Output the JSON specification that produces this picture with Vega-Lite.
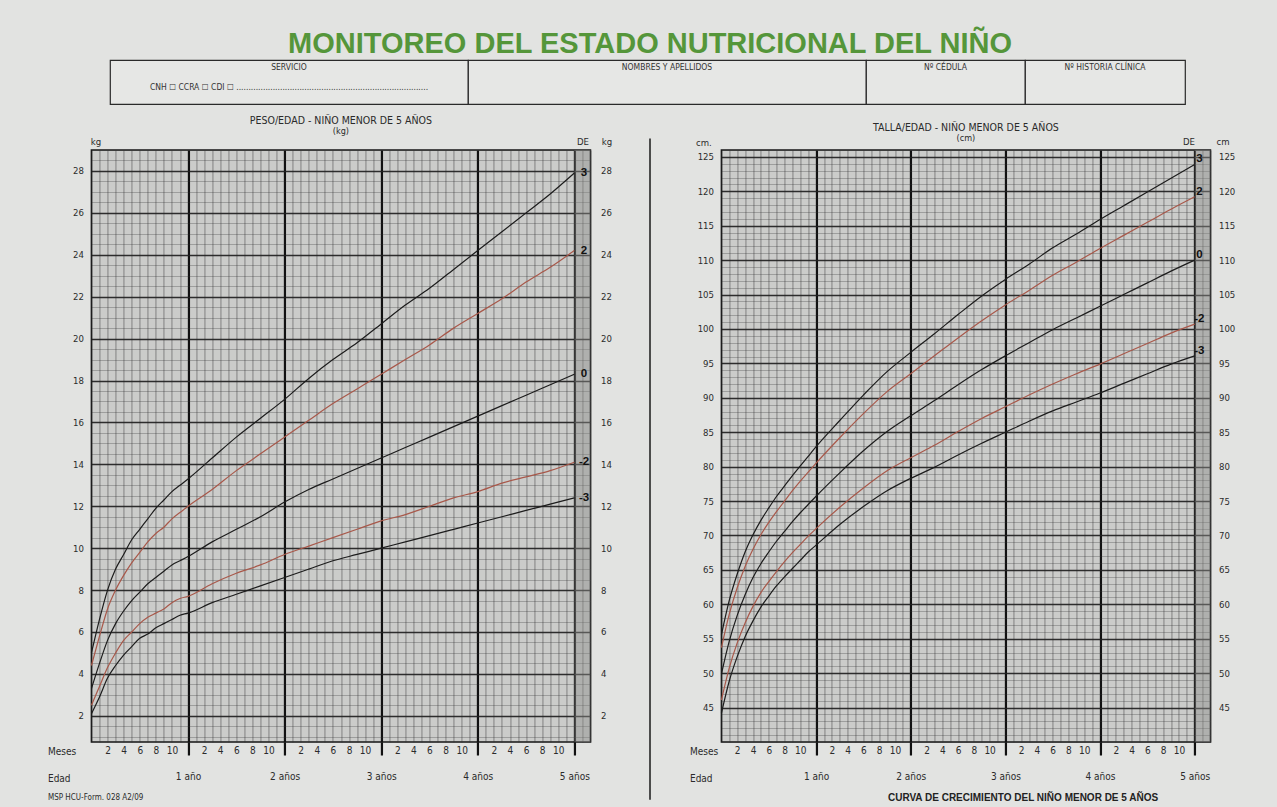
{
  "$schema": "https://vega.github.io/schema/vega-lite/v6.json",
  "background": "#e2e3e1",
  "padding": {"left": 46, "top": 30, "right": 44, "bottom": 8},
  "title": {"text": "MONITOREO DEL ESTADO NUTRICIONAL DEL NIÑO", "font": "Liberation Sans", "fontSize": 29, "fontWeight": "bold", "color": "#55963a", "anchor": "middle", "offset": 0, "dx": 9},
  "datasets": {
    "weight": [
      {"m": 0, "-3": 2.1, "-2": 2.5, "0": 3.3, "2": 4.4, "3": 5.0},
      {"m": 1, "-3": 2.9, "-2": 3.4, "0": 4.5, "2": 5.8, "3": 6.6},
      {"m": 2, "-3": 3.8, "-2": 4.3, "0": 5.6, "2": 7.1, "3": 8.0},
      {"m": 3, "-3": 4.4, "-2": 5.0, "0": 6.4, "2": 8.0, "3": 9.0},
      {"m": 4, "-3": 4.9, "-2": 5.6, "0": 7.0, "2": 8.7, "3": 9.7},
      {"m": 5, "-3": 5.3, "-2": 6.0, "0": 7.5, "2": 9.3, "3": 10.4},
      {"m": 6, "-3": 5.7, "-2": 6.4, "0": 7.9, "2": 9.8, "3": 10.9},
      {"m": 7, "-3": 5.9, "-2": 6.7, "0": 8.3, "2": 10.3, "3": 11.4},
      {"m": 8, "-3": 6.2, "-2": 6.9, "0": 8.6, "2": 10.7, "3": 11.9},
      {"m": 9, "-3": 6.4, "-2": 7.1, "0": 8.9, "2": 11.0, "3": 12.3},
      {"m": 10, "-3": 6.6, "-2": 7.4, "0": 9.2, "2": 11.4, "3": 12.7},
      {"m": 11, "-3": 6.8, "-2": 7.6, "0": 9.4, "2": 11.7, "3": 13.0},
      {"m": 12, "-3": 6.9, "-2": 7.7, "0": 9.6, "2": 12.0, "3": 13.3},
      {"m": 15, "-3": 7.4, "-2": 8.3, "0": 10.3, "2": 12.8, "3": 14.3},
      {"m": 18, "-3": 7.8, "-2": 8.8, "0": 10.9, "2": 13.7, "3": 15.3},
      {"m": 21, "-3": 8.2, "-2": 9.2, "0": 11.5, "2": 14.5, "3": 16.2},
      {"m": 24, "-3": 8.6, "-2": 9.7, "0": 12.2, "2": 15.3, "3": 17.1},
      {"m": 27, "-3": 9.0, "-2": 10.1, "0": 12.8, "2": 16.1, "3": 18.1},
      {"m": 30, "-3": 9.4, "-2": 10.5, "0": 13.3, "2": 16.9, "3": 19.0},
      {"m": 33, "-3": 9.7, "-2": 10.9, "0": 13.8, "2": 17.6, "3": 19.8},
      {"m": 36, "-3": 10.0, "-2": 11.3, "0": 14.3, "2": 18.3, "3": 20.7},
      {"m": 39, "-3": 10.3, "-2": 11.6, "0": 14.8, "2": 19.0, "3": 21.6},
      {"m": 42, "-3": 10.6, "-2": 12.0, "0": 15.3, "2": 19.7, "3": 22.4},
      {"m": 45, "-3": 10.9, "-2": 12.4, "0": 15.8, "2": 20.5, "3": 23.3},
      {"m": 48, "-3": 11.2, "-2": 12.7, "0": 16.3, "2": 21.2, "3": 24.2},
      {"m": 51, "-3": 11.5, "-2": 13.1, "0": 16.8, "2": 21.9, "3": 25.1},
      {"m": 54, "-3": 11.8, "-2": 13.4, "0": 17.3, "2": 22.7, "3": 26.0},
      {"m": 57, "-3": 12.1, "-2": 13.7, "0": 17.8, "2": 23.4, "3": 26.9},
      {"m": 60, "-3": 12.4, "-2": 14.1, "0": 18.3, "2": 24.2, "3": 27.9}
    ],
    "height": [
      {"m": 0, "-3": 44.2, "-2": 46.1, "0": 49.9, "2": 53.7, "3": 55.6},
      {"m": 1, "-3": 48.9, "-2": 50.8, "0": 54.7, "2": 58.6, "3": 60.6},
      {"m": 2, "-3": 52.4, "-2": 54.4, "0": 58.4, "2": 62.4, "3": 64.4},
      {"m": 3, "-3": 55.3, "-2": 57.3, "0": 61.4, "2": 65.5, "3": 67.6},
      {"m": 4, "-3": 57.6, "-2": 59.7, "0": 63.9, "2": 68.0, "3": 70.1},
      {"m": 5, "-3": 59.6, "-2": 61.7, "0": 65.9, "2": 70.1, "3": 72.2},
      {"m": 6, "-3": 61.2, "-2": 63.3, "0": 67.6, "2": 71.9, "3": 74.0},
      {"m": 7, "-3": 62.7, "-2": 64.8, "0": 69.2, "2": 73.5, "3": 75.7},
      {"m": 8, "-3": 64.0, "-2": 66.2, "0": 70.6, "2": 75.0, "3": 77.2},
      {"m": 9, "-3": 65.2, "-2": 67.5, "0": 72.0, "2": 76.5, "3": 78.7},
      {"m": 10, "-3": 66.4, "-2": 68.7, "0": 73.3, "2": 77.9, "3": 80.1},
      {"m": 11, "-3": 67.6, "-2": 69.9, "0": 74.5, "2": 79.2, "3": 81.5},
      {"m": 12, "-3": 68.6, "-2": 71.0, "0": 75.7, "2": 80.5, "3": 82.9},
      {"m": 15, "-3": 71.6, "-2": 74.1, "0": 79.1, "2": 84.2, "3": 86.7},
      {"m": 18, "-3": 74.2, "-2": 76.9, "0": 82.3, "2": 87.7, "3": 90.4},
      {"m": 21, "-3": 76.5, "-2": 79.4, "0": 85.1, "2": 90.9, "3": 93.8},
      {"m": 24, "-3": 78.3, "-2": 81.3, "0": 87.4, "2": 93.5, "3": 96.6},
      {"m": 27, "-3": 79.9, "-2": 83.1, "0": 89.6, "2": 96.1, "3": 99.3},
      {"m": 30, "-3": 81.7, "-2": 85.1, "0": 91.9, "2": 98.7, "3": 102.1},
      {"m": 33, "-3": 83.4, "-2": 87.0, "0": 94.1, "2": 101.2, "3": 104.8},
      {"m": 36, "-3": 85.0, "-2": 88.7, "0": 96.1, "2": 103.5, "3": 107.2},
      {"m": 39, "-3": 86.6, "-2": 90.4, "0": 98.0, "2": 105.6, "3": 109.4},
      {"m": 42, "-3": 88.1, "-2": 92.0, "0": 99.9, "2": 107.8, "3": 111.8},
      {"m": 45, "-3": 89.4, "-2": 93.5, "0": 101.6, "2": 109.7, "3": 113.8},
      {"m": 48, "-3": 90.7, "-2": 94.9, "0": 103.3, "2": 111.7, "3": 115.9},
      {"m": 51, "-3": 92.1, "-2": 96.4, "0": 105.0, "2": 113.6, "3": 117.9},
      {"m": 54, "-3": 93.5, "-2": 97.9, "0": 106.7, "2": 115.5, "3": 119.9},
      {"m": 57, "-3": 94.9, "-2": 99.4, "0": 108.4, "2": 117.4, "3": 121.9},
      {"m": 60, "-3": 96.1, "-2": 100.7, "0": 110.0, "2": 119.2, "3": 123.9}
    ]
  },
  "vconcat": [
    {
      "hconcat": [
        {"width": 358, "height": 44, "view": {"fill": "#e6e7e5", "stroke": "#2a2a2a", "strokeWidth": 1.2},
         "title": {"text": "SERVICIO", "offset": -11, "fontSize": 8.5, "color": "#333"},
         "data": {"values": [{"t": "CNH ☐    CCRA ☐    CDI ☐   ..............................................................................."}]},
         "mark": {"type": "text", "fontSize": 8.5, "color": "#333", "dy": 5},
         "encoding": {"text": {"field": "t"}}},
        {"width": 398, "height": 44, "view": {"fill": "#e6e7e5", "stroke": "#2a2a2a", "strokeWidth": 1.2},
         "title": {"text": "NOMBRES Y APELLIDOS", "offset": -11, "fontSize": 8.5, "color": "#333"},
         "data": {"values": [{"t": ""}]},
         "mark": {"type": "text"},
         "encoding": {"text": {"field": "t"}}},
        {"width": 159, "height": 44, "view": {"fill": "#e6e7e5", "stroke": "#2a2a2a", "strokeWidth": 1.2},
         "title": {"text": "Nº CÉDULA", "offset": -11, "fontSize": 8.5, "color": "#333"},
         "data": {"values": [{"t": ""}]},
         "mark": {"type": "text"},
         "encoding": {"text": {"field": "t"}}},
        {"width": 160, "height": 44, "view": {"fill": "#e6e7e5", "stroke": "#2a2a2a", "strokeWidth": 1.2},
         "title": {"text": "Nº HISTORIA CLÍNICA", "offset": -11, "fontSize": 8.5, "color": "#333"},
         "data": {"values": [{"t": ""}]},
         "mark": {"type": "text"},
         "encoding": {"text": {"field": "t"}}},
        {"width": 32, "height": 44, "view": {"fill": null, "stroke": null},
         "data": {"values": [{"t": ""}]},
         "mark": {"type": "text"},
         "encoding": {"text": {"field": "t"}}}
      ],
      "spacing": 0,
      "bounds": "flush"
    },
    {
      "hconcat": [
        {
          "width": 499, "height": 592,
          "view": {"fill": "#cbccca", "stroke": "#161616", "strokeWidth": 1.6},
          "title": {"text": "PESO/EDAD - NIÑO MENOR DE 5 AÑOS", "subtitle": "(kg)", "fontSize": 10.5, "subtitleFontSize": 9, "offset": 0, "subtitlePadding": 1, "frame": "group"},
          "resolve": {"axis": {"x": "independent", "y": "independent"}},
          "layer": [
            {
              "data": {"values": [{}]},
              "mark": {"type": "rect", "color": "#8d8e8c", "opacity": 0.45},
              "encoding": {
                "x": {"datum": 60, "type": "quantitative", "scale": {"domain": [0, 62], "nice": false, "zero": false},
                      "axis": {"orient": "bottom", "labels": false, "ticks": false, "grid": false, "title": "MSP HCU-Form. 028 A2/09", "titleX": -44, "titleY": 55, "titleAlign": "left", "titleBaseline": "middle", "titleFontSize": 8, "titleFontWeight": "normal"}},
                "x2": {"datum": 62},
                "y": {"datum": 0.75, "type": "quantitative", "scale": {"domain": [0.75, 29], "nice": false, "zero": false},
                      "axis": {"orient": "right", "labels": false, "ticks": false, "grid": false, "title": "DE", "titleAngle": 0, "titleX": -8, "titleY": -9, "titleAlign": "center", "titleBaseline": "middle", "titleFontSize": 9.5, "titleFontWeight": "normal"}},
                "y2": {"datum": 29}
              }
            },
            {
              "data": {"values": [{}]},
              "mark": {"type": "rule", "clip": false, "color": "#262626", "strokeWidth": 1.6},
              "encoding": {
                "x": {"datum": 69.4, "type": "quantitative", "axis": null},
                "y": {"datum": -2.0, "type": "quantitative", "axis": null},
                "y2": {"datum": 29.55}
              }
            },
            {
              "data": {"name": "weight"},
              "transform": [{"fold": ["3", "2", "0", "-2", "-3"], "as": ["sd", "v"]}],
              "mark": {"type": "line", "interpolate": "monotone"},
              "encoding": {
                "x": {"field": "m", "type": "quantitative", "scale": {"domain": [0, 62], "nice": false, "zero": false},
                      "axis": {"orient": "bottom", "values": [0,1,2,3,4,5,6,7,8,9,10,11,12,13,14,15,16,17,18,19,20,21,22,23,24,25,26,27,28,29,30,31,32,33,34,35,36,37,38,39,40,41,42,43,44,45,46,47,48,49,50,51,52,53,54,55,56,57,58,59,60,61,62],
                               "grid": true, "gridColor": "#333", "gridOpacity": 0.6, "gridWidth": 0.8, "ticks": false,
                               "labelExpr": "(datum.value % 2 == 0 && datum.value % 12 != 0 && datum.value < 60) ? '' + (datum.value % 12) : ''",
                               "labelFontSize": 10, "labelPadding": 3, "labelOverlap": false, "labelFlush": false,
                               "title": "Meses", "titleX": -44, "titleY": 9, "titleAlign": "left", "titleBaseline": "middle", "titleFontSize": 10, "titleFontWeight": "normal"}},
                "y": {"field": "v", "type": "quantitative", "scale": {"domain": [0.75, 29], "nice": false, "zero": false},
                      "axis": {"orient": "left", "values": [2,4,6,8,10,12,14,16,18,20,22,24,26,28], "grid": true, "gridColor": "#1a1a1a", "gridWidth": 1.3, "gridOpacity": 0.9, "ticks": false, "labelPadding": 8, "labelFontSize": 9.5,
                               "title": "kg", "titleAngle": 0, "titleX": 4, "titleY": -9, "titleAlign": "center", "titleBaseline": "middle", "titleFontSize": 9.5, "titleFontWeight": "normal"}},
                "color": {"field": "sd", "type": "nominal", "scale": {"domain": ["3", "2", "0", "-2", "-3"], "range": ["#1c1c1c", "#a8584a", "#1c1c1c", "#a8584a", "#1c1c1c"]}, "legend": null},
                "strokeWidth": {"field": "sd", "type": "nominal", "scale": {"domain": ["3", "2", "0", "-2", "-3"], "range": [1.2, 1.2, 2.7, 1.2, 1.2]}, "legend": null}
              }
            },
            {
              "data": {"name": "weight"},
              "transform": [{"filter": "datum.m == 60"}, {"fold": ["3", "2", "0", "-2", "-3"], "as": ["sd", "v"]}],
              "mark": {"type": "text", "font": "Liberation Sans", "fontWeight": "bold", "fontSize": 11.5, "color": "#111", "align": "center", "baseline": "middle"},
              "encoding": {
                "x": {"datum": 61.2, "type": "quantitative", "scale": {"domain": [0, 62], "nice": false, "zero": false},
                      "axis": {"orient": "bottom", "values": [12, 24, 36, 48, 60], "grid": true, "gridColor": "#111", "gridWidth": 2.2, "gridOpacity": 1, "ticks": true, "tickSize": 13, "tickWidth": 2.2, "tickColor": "#111",
                               "labelExpr": "datum.value == 12 ? '1 año' : (datum.value / 12) + ' años'", "labelPadding": 16, "labelFontSize": 10, "labelFlush": false, "labelOverlap": false,
                               "title": "Edad", "titleX": -44, "titleY": 36, "titleAlign": "left", "titleBaseline": "middle", "titleFontSize": 10, "titleFontWeight": "normal"}},
                "y": {"field": "v", "type": "quantitative", "scale": {"domain": [0.75, 29], "nice": false, "zero": false},
                      "axis": {"orient": "right", "values": [1,1.5,2,2.5,3,3.5,4,4.5,5,5.5,6,6.5,7,7.5,8,8.5,9,9.5,10,10.5,11,11.5,12,12.5,13,13.5,14,14.5,15,15.5,16,16.5,17,17.5,18,18.5,19,19.5,20,20.5,21,21.5,22,22.5,23,23.5,24,24.5,25,25.5,26,26.5,27,27.5,28,28.5,29],
                               "grid": true, "gridColor": "#333", "gridOpacity": 0.5, "gridWidth": 0.6, "ticks": false,
                               "labelExpr": "datum.value % 2 == 0 ? '' + datum.value : ''", "labelPadding": 10, "labelFontSize": 9.5, "labelOverlap": false,
                               "title": "kg", "titleAngle": 0, "titleX": 16, "titleY": -9, "titleAlign": "center", "titleBaseline": "middle", "titleFontSize": 9.5, "titleFontWeight": "normal"}},
                "text": {"field": "sd"}
              }
            }
          ]
        },
        {
          "width": 489, "height": 592,
          "view": {"fill": "#cbccca", "stroke": "#161616", "strokeWidth": 1.6},
          "title": {"text": "TALLA/EDAD - NIÑO MENOR DE 5 AÑOS", "subtitle": "(cm)", "fontSize": 10.5, "subtitleFontSize": 9, "offset": -7, "subtitlePadding": 1, "frame": "group"},
          "resolve": {"axis": {"x": "independent", "y": "independent"}},
          "layer": [
            {
              "data": {"values": [{}]},
              "mark": {"type": "rect", "color": "#8d8e8c", "opacity": 0.45},
              "encoding": {
                "x": {"datum": 60, "type": "quantitative", "scale": {"domain": [0, 62], "nice": false, "zero": false},
                      "axis": {"orient": "bottom", "labels": false, "ticks": false, "grid": false, "title": "CURVA DE CRECIMIENTO DEL NIÑO MENOR DE 5 AÑOS", "titleX": 166, "titleY": 55, "titleAlign": "left", "titleBaseline": "middle", "titleFont": "Liberation Sans", "titleFontSize": 10, "titleFontWeight": "bold", "titleColor": "#222"}},
                "x2": {"datum": 62},
                "y": {"datum": 40, "type": "quantitative", "scale": {"domain": [40, 126], "nice": false, "zero": false},
                      "axis": {"orient": "right", "labels": false, "ticks": false, "grid": false, "title": "DE", "titleAngle": 0, "titleX": -22, "titleY": -9, "titleAlign": "center", "titleBaseline": "middle", "titleFontSize": 9.5, "titleFontWeight": "normal"}},
                "y2": {"datum": 126}
              }
            },
            {
              "data": {"name": "height"},
              "transform": [{"fold": ["3", "2", "0", "-2", "-3"], "as": ["sd", "v"]}],
              "mark": {"type": "line", "interpolate": "monotone"},
              "encoding": {
                "x": {"field": "m", "type": "quantitative", "scale": {"domain": [0, 62], "nice": false, "zero": false},
                      "axis": {"orient": "bottom", "values": [0,1,2,3,4,5,6,7,8,9,10,11,12,13,14,15,16,17,18,19,20,21,22,23,24,25,26,27,28,29,30,31,32,33,34,35,36,37,38,39,40,41,42,43,44,45,46,47,48,49,50,51,52,53,54,55,56,57,58,59,60,61,62],
                               "grid": true, "gridColor": "#333", "gridOpacity": 0.6, "gridWidth": 0.8, "ticks": false,
                               "labelExpr": "(datum.value % 2 == 0 && datum.value % 12 != 0 && datum.value < 60) ? '' + (datum.value % 12) : ''",
                               "labelFontSize": 10, "labelPadding": 3, "labelOverlap": false, "labelFlush": false,
                               "title": "Meses", "titleX": -32, "titleY": 9, "titleAlign": "left", "titleBaseline": "middle", "titleFontSize": 10, "titleFontWeight": "normal"}},
                "y": {"field": "v", "type": "quantitative", "scale": {"domain": [40, 126], "nice": false, "zero": false},
                      "axis": {"orient": "left", "values": [45,50,55,60,65,70,75,80,85,90,95,100,105,110,115,120,125], "grid": true, "gridColor": "#1a1a1a", "gridWidth": 1.3, "gridOpacity": 0.9, "ticks": false, "labelPadding": 8, "labelFontSize": 9.5,
                               "title": "cm.", "titleAngle": 0, "titleX": -18, "titleY": -8, "titleAlign": "center", "titleBaseline": "middle", "titleFontSize": 9.5, "titleFontWeight": "normal"}},
                "color": {"field": "sd", "type": "nominal", "scale": {"domain": ["3", "2", "0", "-2", "-3"], "range": ["#1c1c1c", "#a8584a", "#1c1c1c", "#a8584a", "#1c1c1c"]}, "legend": null},
                "strokeWidth": {"field": "sd", "type": "nominal", "scale": {"domain": ["3", "2", "0", "-2", "-3"], "range": [1.2, 1.2, 2.7, 1.2, 1.2]}, "legend": null}
              }
            },
            {
              "data": {"name": "height"},
              "transform": [{"filter": "datum.m == 60"}, {"fold": ["3", "2", "0", "-2", "-3"], "as": ["sd", "v"]}],
              "mark": {"type": "text", "font": "Liberation Sans", "fontWeight": "bold", "fontSize": 11.5, "color": "#111", "align": "center", "baseline": "middle", "dy": -5},
              "encoding": {
                "x": {"datum": 60.6, "type": "quantitative", "scale": {"domain": [0, 62], "nice": false, "zero": false},
                      "axis": {"orient": "bottom", "values": [12, 24, 36, 48, 60], "grid": true, "gridColor": "#111", "gridWidth": 2.2, "gridOpacity": 1, "ticks": true, "tickSize": 13, "tickWidth": 2.2, "tickColor": "#111",
                               "labelExpr": "datum.value == 12 ? '1 año' : (datum.value / 12) + ' años'", "labelPadding": 16, "labelFontSize": 10, "labelFlush": false, "labelOverlap": false,
                               "title": "Edad", "titleX": -32, "titleY": 36, "titleAlign": "left", "titleBaseline": "middle", "titleFontSize": 10, "titleFontWeight": "normal"}},
                "y": {"field": "v", "type": "quantitative", "scale": {"domain": [40, 126], "nice": false, "zero": false},
                      "axis": {"orient": "right", "values": [40,41,42,43,44,45,46,47,48,49,50,51,52,53,54,55,56,57,58,59,60,61,62,63,64,65,66,67,68,69,70,71,72,73,74,75,76,77,78,79,80,81,82,83,84,85,86,87,88,89,90,91,92,93,94,95,96,97,98,99,100,101,102,103,104,105,106,107,108,109,110,111,112,113,114,115,116,117,118,119,120,121,122,123,124,125,126],
                               "grid": true, "gridColor": "#333", "gridOpacity": 0.5, "gridWidth": 0.6, "ticks": false,
                               "labelExpr": "(datum.value % 5 == 0 && datum.value >= 45) ? '' + datum.value : ''", "labelPadding": 8, "labelFontSize": 9.5, "labelOverlap": false,
                               "title": "cm", "titleAngle": 0, "titleX": 12, "titleY": -9, "titleAlign": "center", "titleBaseline": "middle", "titleFontSize": 9.5, "titleFontWeight": "normal"}},
                "text": {"field": "sd"}
              }
            }
          ]
        }
      ],
      "spacing": 131,
      "bounds": "flush"
    }
  ],
  "spacing": 9,
  "center": true,
  "config": {
    "font": "DejaVu Sans Condensed, Liberation Sans",
    "text": {"font": "DejaVu Sans Condensed, Liberation Sans"},
    "axis": {"labelFont": "DejaVu Sans Condensed, Liberation Sans", "titleFont": "DejaVu Sans Condensed, Liberation Sans", "labelColor": "#2b2b2b", "titleColor": "#2b2b2b", "domain": false},
    "title": {"font": "DejaVu Sans Condensed, Liberation Sans", "color": "#2a2a2a", "subtitleColor": "#2a2a2a", "subtitleFont": "DejaVu Sans Condensed, Liberation Sans", "fontWeight": "normal"}
  }
}
